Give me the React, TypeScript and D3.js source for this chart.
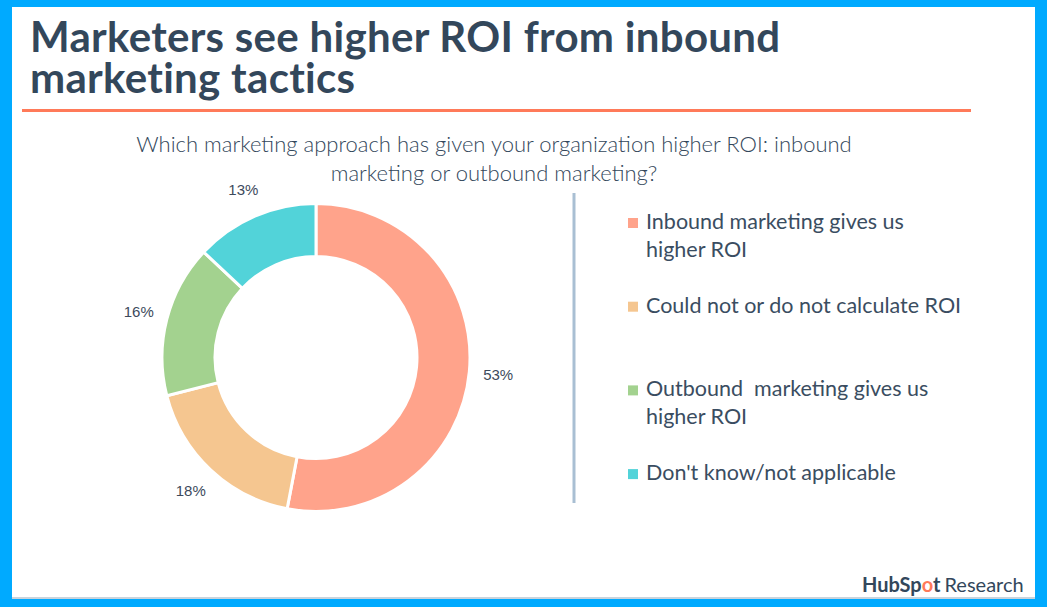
import React from "react";
import * as d3 from "d3";

const categories = [
  "Inbound marketing gives us higher ROI",
  "Could not or do not calculate ROI",
  "Outbound marketing gives us higher ROI",
  "Don't know/not applicable",
];
const values = [53, 18, 16, 13];
const sliceColors = ["#FFA38B", "#F5C690", "#A3D28F", "#52D3D9"];
const legendLines = [
  ["Inbound marketing gives us", "higher ROI"],
  ["Could not or do not calculate ROI"],
  ["Outbound  marketing gives us", "higher ROI"],
  ["Don't know/not applicable"],
];
const titleLines = ["Marketers see higher ROI from inbound", "marketing tactics"];
const subtitleLines = [
  "Which marketing approach has given your organization higher ROI: inbound",
  "marketing or outbound marketing?",
];

const W = 1047;
const H = 607;
const dark = "#33475B";

export default function App() {
  const cx = 316;
  const cy = 357.5;
  const pie = d3.pie<number>().sort(null).value((d) => d);
  const arcs = pie(values);
  const arc = d3.arc<d3.PieArcDatum<number>>().innerRadius(101).outerRadius(154);
  const labelArc = d3.arc<d3.PieArcDatum<number>>().innerRadius(183).outerRadius(183);
  const legendY = d3.scaleLinear().domain([0, 1]).range([229, 312.7]);

  return (
    <svg
      width={W}
      height={H}
      style={{ position: "absolute", left: 0, top: 0, display: "block" }}
    >
      <rect x={0} y={0} width={W} height={H} fill="#00AAFF" />
      <rect x={12} y={7} width={1023} height={591} fill="#ffffff" />
      <rect x={12} y={597} width={1023} height={2} fill="#c9d3dc" />

      <text
        fontFamily="Lato, 'Open Sans', sans-serif"
        fontWeight={700}
        fontSize={42}
        letterSpacing={0.3}
        fill={dark}
      >
        {titleLines.map((t, i) => (
          <tspan key={t} x={30} y={52 + i * 41}>
            {t}
          </tspan>
        ))}
      </text>
      <rect x={22} y={109} width={949} height={3} fill="#FF7A59" />

      <text
        textAnchor="middle"
        fontFamily="Lato, 'Open Sans', sans-serif"
        fontWeight={300}
        fontSize={22}
        fill={dark}
      >
        {subtitleLines.map((t, i) => (
          <tspan key={t} x={494} y={152 + i * 29}>
            {t}
          </tspan>
        ))}
      </text>

      <g transform={`translate(${cx},${cy})`}>
        {arcs.map((a, i) => (
          <path key={i} d={arc(a) || ""} fill={sliceColors[i]} stroke="#fff" strokeWidth={3} />
        ))}
        {arcs.map((a, i) => {
          const [lx, ly] = labelArc.centroid(a);
          return (
            <text
              key={"l" + i}
              x={lx}
              y={ly}
              dy="0.35em"
              textAnchor="middle"
              fontFamily="'Liberation Sans', Arial, sans-serif"
              fontSize={15}
              fill="#3d4a5c"
            >
              {values[i]}%
            </text>
          );
        })}
      </g>

      <rect x={572.5} y={193} width={3} height={310} fill="#A9BFD3" />

      {legendLines.map((lines, i) => (
        <g key={categories[i]}>
          <rect x={628} y={legendY(i) - 11} width={10} height={10} fill={sliceColors[i]} />
          <text
            fontFamily="Lato, 'Open Sans', sans-serif"
            fontSize={21.5}
            fill="#3a4d61"
            style={{ whiteSpace: "pre" }}
          >
            {lines.map((ln, j) => (
              <tspan key={j} x={646} y={legendY(i) + j * 28}>
                {ln}
              </tspan>
            ))}
          </text>
        </g>
      ))}

      <text x={862} y={592} fontFamily="Lato, 'Open Sans', sans-serif" fontSize={20} fill={dark}>
        <tspan fontWeight={700}>HubSp</tspan>
        <tspan fontWeight={700} fill="#FF7A59">o</tspan>
        <tspan fontWeight={700}>t</tspan>
        <tspan dx={4}>Research</tspan>
      </text>
    </svg>
  );
}
